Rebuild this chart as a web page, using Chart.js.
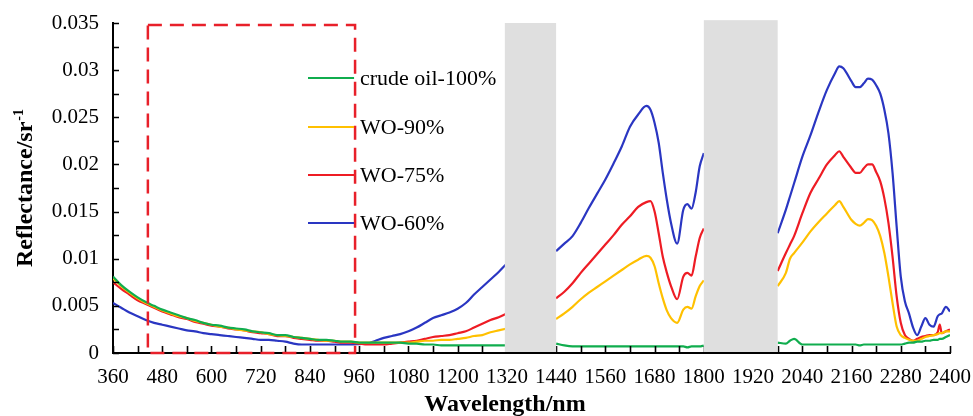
<!DOCTYPE html>
<html>
<head>
<meta charset="utf-8">
<script src="https://cdn.jsdelivr.net/npm/chart.js@4.4.1/dist/chart.umd.min.js"></script>
<style>
    body { margin: 0; background: #fff; }
</style>
</head>
<body>
<canvas id="spectra" width="973" height="416"></canvas>
<script>
// wavelength in nm; null rows split the curve at the water absorption bands
const wavelengths = [
    360, 380, 400, 420, 440, 460, 480, 500, 520, 540,
    560, 580, 600, 620, 640, 660, 680, 700, 720, 740,
    760, 780, 800, 820, 840, 860, 880, 900, 920, 940,
    960, 980, 1000, 1020, 1040, 1060, 1080, 1100, 1120, 1140,
    1160, 1180, 1200, 1220, 1240, 1260, 1280, 1300, 1320,
    1380,
    1440, 1460, 1480, 1500, 1520, 1540, 1560, 1580, 1600, 1620,
    1640, 1660, 1670, 1680, 1690, 1700, 1710, 1720, 1735, 1750,
    1760, 1770, 1780, 1790, 1800,
    1890,
    1980, 2000, 2010, 2020, 2040, 2060, 2080, 2100, 2120, 2130,
    2140, 2160, 2170, 2180, 2190, 2200, 2210, 2220, 2230, 2240,
    2250, 2260, 2270, 2280, 2290, 2300, 2310, 2320, 2330, 2340,
    2350, 2360, 2370, 2375, 2380, 2390, 2400
]

const crudeOil100 = [
    .0081, .0072, .0065, .0059, .0054, .0050, .0046, .0043, .0040, .0037,
    .0035, .0032, .0030, .0029, .0027, .0026, .0025, .0023, .0022, .0021,
    .0019, .0019, .0017, .0016, .0015, .0014, .0014, .0013, .0012, .0012,
    .0011, .0011, .0011, .0011, .0011, .0011, .0010, .0010, .0009, .0009,
    .0008, .0008, .0008, .0008, .0008, .0008, .0008, .0008, .0008,
    null,
    .0010, .0008, .0007, .0007, .0007, .0007, .0007, .0007, .0007, .0007,
    .0007, .0007, .0007, .0007, .0007, .0007, .0007, .0007, .0007, .0007,
    .0006, .0007, .0007, .0007, .0008,
    null,
    .0011, .0010, .0013, .0015, .0009, .0009, .0009, .0009, .0009, .0009,
    .0009, .0009, .0009, .0008, .0009, .0009, .0009, .0009, .0009, .0009,
    .0009, .0009, .0009, .0009, .0010, .0011, .0011, .0012, .0012, .0013,
    .0013, .0014, .0014, .0015, .0015, .0017, .0019
]

const wo90 = [
    .0079, .0071, .0064, .0058, .0053, .0049, .0045, .0042, .0039, .0037,
    .0034, .0032, .0030, .0028, .0027, .0025, .0024, .0023, .0022, .0020,
    .0019, .0018, .0017, .0016, .0015, .0014, .0013, .0013, .0012, .0012,
    .0011, .0011, .0011, .0011, .0011, .0011, .0011, .0012, .0013, .0013,
    .0014, .0014, .0015, .0016, .0018, .0019, .0022, .0024, .0026,
    null,
    .0036, .0042, .0049, .0057, .0064, .0070, .0076, .0082, .0088, .0094,
    .0099, .0103, .0101, .0092, .0074, .0058, .0045, .0037, .0032, .0046,
    .0049, .0047, .0060, .0071, .0077,
    null,
    .0071, .0085, .0100, .0106, .0117, .0129, .0139, .0148, .0157, .0161,
    .0155, .0141, .0137, .0135, .0138, .0142, .0141, .0135, .0124, .0106,
    .0081, .0053, .0028, .0019, .0016, .0014, .0013, .0013, .0015, .0017,
    .0018, .0019, .0020, .0021, .0021, .0023, .0023
]

const wo75 = [
    .0075, .0068, .0062, .0056, .0052, .0048, .0044, .0041, .0038, .0036,
    .0033, .0031, .0029, .0028, .0026, .0025, .0024, .0022, .0021, .0020,
    .0018, .0018, .0016, .0015, .0014, .0013, .0013, .0012, .0011, .0011,
    .0010, .0009, .0009, .0009, .0010, .0011, .0012, .0013, .0015, .0017,
    .0018, .0019, .0021, .0023, .0027, .0031, .0035, .0038, .0042,
    null,
    .0058, .0065, .0074, .0085, .0095, .0105, .0115, .0125, .0136, .0145,
    .0155, .0160, .0161, .0150, .0127, .0102, .0085, .0071, .0057, .0081,
    .0085, .0082, .0102, .0122, .0132,
    null,
    .0087, .0106, .0115, .0124, .0148, .0170, .0185, .0200, .0210, .0214,
    .0208, .0196, .0191, .0191, .0196, .0200, .0200, .0192, .0182, .0164,
    .0138, .0102, .0060, .0032, .0019, .0015, .0013, .0015, .0017, .0018,
    .0019, .0019, .0022, .0030, .0021, .0023, .0025
]

const wo60 = [
    .0053, .0048, .0043, .0039, .0035, .0032, .0030, .0028, .0026, .0024,
    .0023, .0021, .0020, .0019, .0018, .0017, .0016, .0015, .0014, .0014,
    .0013, .0012, .0010, .0009, .0009, .0009, .0009, .0009, .0009, .0009,
    .00095, .0010, .0013, .0016, .0018, .0020, .0023, .0027, .0032, .0037,
    .0040, .0043, .0047, .0053, .0062, .0070, .0078, .0086, .0095,
    null,
    .0108, .0116, .0124, .0138, .0154, .0169, .0184, .0201, .0219, .0240,
    .0253, .0262, .0258, .0244, .0223, .0191, .0162, .0138, .0116, .0152,
    .0158, .0153, .0170, .0198, .0212,
    null,
    .0127, .0152, .0166, .0180, .0208, .0231, .0256, .0279, .0297, .0304,
    .0302, .0288, .0282, .0282, .0286, .0291, .0290, .0284, .0275, .0258,
    .0233, .0191, .0134, .0081, .0055, .0042, .0027, .0019, .0028, .0037,
    .0030, .0028, .0039, .0041, .0042, .0049, .0044
]

const seriesNames = ['crude oil-100%', 'WO-90%', 'WO-75%', 'WO-60%']
const seriesColors = ['#10AD4E', '#FFC000', '#EE1C24', '#2A36C2']

// shaded absorption bands (nm) and their top edge
const bandStart = [1315, 1800]
const bandEnd = [1440, 1980]
const bandTop = [0.035, 0.0353]

// dashed box over the visible range
const boxRange = [445, 950]
const boxTop = 0.0348

const serif = '"Liberation Serif", "Times New Roman", serif'

function toPoints(values) {
    return wavelengths.map((w, i) => ({ x: w, y: values[i] }))
}

const overlay = {
    id: 'overlay',
    afterDatasetsDraw(chart) {
        const ctx = chart.ctx
        const xs = chart.scales.x, ys = chart.scales.y
        const area = chart.chartArea
        ctx.save()

        // inward tick marks
        ctx.strokeStyle = '#000'
        ctx.lineWidth = 1.6
        ctx.beginPath()
        xs.ticks.forEach((t) => {
            let px = Math.round(xs.getPixelForValue(t.value)) + 0.5
            ctx.moveTo(px, area.bottom)
            ctx.lineTo(px, area.bottom - 7)
        })
        ys.ticks.forEach((t) => {
            let py = Math.round(ys.getPixelForValue(t.value)) + 0.5
            ctx.moveTo(area.left, py)
            ctx.lineTo(area.left + 6, py)
        })
        ctx.stroke()

        // grey bands
        ctx.fillStyle = '#DFDFDF'
        bandStart.forEach((s, i) => {
            let x0 = xs.getPixelForValue(s), x1 = xs.getPixelForValue(bandEnd[i])
            let y0 = ys.getPixelForValue(bandTop[i])
            ctx.fillRect(x0, y0, x1 - x0, area.bottom - 1 - y0)
        })

        // dashed box
        let bx0 = xs.getPixelForValue(boxRange[0]), bx1 = xs.getPixelForValue(boxRange[1])
        let by0 = ys.getPixelForValue(boxTop), by1 = ys.getPixelForValue(0)
        ctx.strokeStyle = '#E8202A'
        ctx.lineWidth = 2.5
        ctx.setLineDash([14, 8])
        ctx.strokeRect(bx0, by0, bx1 - bx0, by1 - by0)
        ctx.setLineDash([])

        // legend
        const rows = [78, 127, 175, 223]
        ctx.font = '22px ' + serif
        ctx.textBaseline = 'middle'
        ctx.textAlign = 'left'
        seriesNames.forEach((name, i) => {
            ctx.strokeStyle = seriesColors[i]
            ctx.lineWidth = 2
            ctx.beginPath()
            ctx.moveTo(308, rows[i])
            ctx.lineTo(bx1 - 1, rows[i])
            ctx.stroke()
            ctx.fillStyle = '#000'
            ctx.fillText(name, 360, rows[i] + 1)
        })
        ctx.restore()
    },
    afterDraw(chart) {
        const ctx = chart.ctx
        const area = chart.chartArea
        ctx.save()
        ctx.fillStyle = '#000'
        ctx.font = 'bold 24px ' + serif
        ctx.textAlign = 'center'
        ctx.textBaseline = 'alphabetic'
        ctx.fillText('Wavelength/nm', 505, 411)

        // y title with superscript unit
        let main = 'Reflectance/sr', sup = '-1'
        ctx.translate(32, (area.top + area.bottom) / 2)
        ctx.rotate(-Math.PI / 2)
        ctx.textAlign = 'left'
        let w1 = ctx.measureText(main).width
        ctx.font = 'bold 14px ' + serif
        let w2 = ctx.measureText(sup).width
        let start = -(w1 + w2 + 1) / 2
        ctx.font = 'bold 24px ' + serif
        ctx.fillText(main, start, 0)
        ctx.font = 'bold 14px ' + serif
        ctx.fillText(sup, start + w1 + 1, -9)
        ctx.restore()
    }
}

new Chart(document.getElementById('spectra').getContext('2d'), {
    type: 'line',
    data: {
        datasets: [crudeOil100, wo90, wo75, wo60].map((values, i) => ({
            label: seriesNames[i],
            data: toPoints(values),
            borderColor: seriesColors[i],
            borderWidth: 2.2,
            pointRadius: 0,
            tension: 0.3,
            cubicInterpolationMode: 'monotone',
            spanGaps: false
        }))
    },
    options: {
        responsive: false,
        animation: false,
        devicePixelRatio: 1,
        layout: { padding: { top: 23, right: 23, left: 0, bottom: 0 } },
        plugins: { legend: { display: false }, tooltip: { enabled: false } },
        scales: {
            x: {
                type: 'linear',
                min: 360,
                max: 2400,
                grid: { display: false, drawTicks: false },
                border: { display: true, color: '#000', width: 2 },
                ticks: {
                    stepSize: 60,
                    autoSkip: false,
                    maxRotation: 0,
                    padding: 12,
                    color: '#000',
                    font: { family: serif, size: 21 },
                    callback: (v) => (v % 120 === 0 ? String(v) : '')
                },
                afterFit: (scale) => {
                    scale.height = 63
                    scale.paddingLeft = 0
                    scale.paddingRight = 0
                }
            },
            y: {
                min: 0,
                max: 0.035,
                grid: { display: false, drawTicks: false },
                border: { display: true, color: '#000', width: 2 },
                ticks: {
                    stepSize: 0.0025,
                    autoSkip: false,
                    padding: 14,
                    color: '#000',
                    font: { family: serif, size: 21 },
                    callback: (v) => {
                        let r = Math.round(v * 10000)
                        return r % 50 === 0 ? String(r / 10000) : ''
                    }
                },
                afterFit: (scale) => {
                    scale.width = 113
                    scale.paddingTop = 0
                    scale.paddingBottom = 0
                }
            }
        }
    },
    plugins: [overlay]
})
</script>
</body>
</html>
